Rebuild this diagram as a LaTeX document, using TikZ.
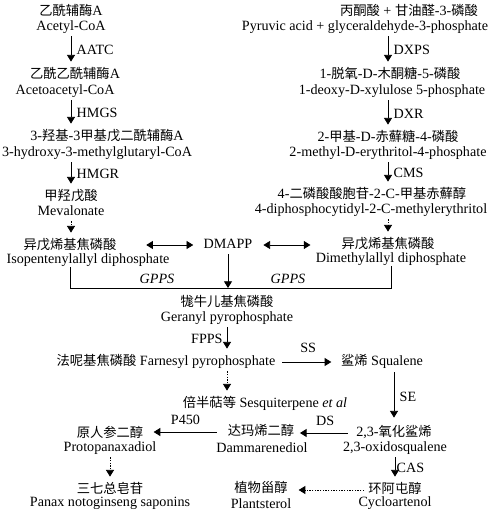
\documentclass[tikz,border=0pt]{standalone}
\usepackage{fontspec}
\setmainfont{Liberation Serif}
\newfontfamily\cjk[Scale=0.94]{Noto Sans CJK SC}
\newcommand{\zh}[1]{{\cjk #1}}
\usetikzlibrary{arrows.meta}

\begin{document}
\begin{tikzpicture}[x=0.75pt,y=-0.75pt,line width=0.6pt,
	>={Triangle[length=5pt,width=6pt]},
	every node/.style={inner sep=0pt,text height=8pt,text depth=2.5pt,font=\fontsize{10.6}{12}\selectfont},
	arr/.style={->,shorten <=1.5pt,shorten >=4.5pt},
	dot/.style={arr,dash pattern=on 1pt off 1pt},
	dbl/.style={<->}]
	\useasboundingbox (0,0) rectangle (490,516);

	% MVA pathway
	\node (acc) at (71,12)	{\zh{乙酰辅酶}A};
	\node (ace) at (71,27)	{Acetyl-CoA};
	\node (aac) at (75,75)	{\zh{乙酰乙酰辅酶}A};
	\node (aae) at (65,91)	{Acetoacetyl-CoA};
	\node (hmc) at (107,137)	{3-\zh{羟基}-3\zh{甲基戊二酰辅酶}A};
	\node (hme) at (97,153)	{3-hydroxy-3-methylglutaryl-CoA};
	\node (mvc) at (71,197)	{\zh{甲羟戊酸}};
	\node (mve) at (71,212)	{Mevalonate};
	\node (ipc) at (70,246)	{\zh{异戊烯基焦磷酸}};
	\node (ipe) at (88,260)	{Isopentenylallyl diphosphate};
	\node (dmapp) at (228,245)	{DMAPP};

	% MEP pathway
	\node (pyc) at (409,12)	{\zh{丙酮酸} + \zh{甘油醛}-3-\zh{磷酸}};
	\node (pye) at (365,27)	{Pyruvic acid + glyceraldehyde-3-phosphate};
	\node (dxc) at (390,75)	{1-\zh{脱氧}-D-\zh{木酮糖}-5-\zh{磷酸}};
	\node (dxe) at (392,91)	{1-deoxy-D-xylulose 5-phosphate};
	\node (mec) at (388,138)	{2-\zh{甲基}-D-\zh{赤蘚糖}-4-\zh{磷酸}};
	\node (mee) at (388,153)	{2-methyl-D-erythritol-4-phosphate};
	\node (cdc) at (372,195)	{4-\zh{二磷酸酸胞苷}-2-C-\zh{甲基赤蘚醇}};
	\node (cde) at (371,210)	{4-diphosphocytidyl-2-C-methylerythritol};
	\node (dmc) at (388,245)	{\zh{异戊烯基焦磷酸}};
	\node (dme) at (391,259)	{Dimethylallyl diphosphate};

	% downstream
	\node (gpc) at (227,303)	{\zh{牻牛儿基焦磷酸}};
	\node (gpe) at (227,318)	{Geranyl pyrophosphate};
	\node (fpp) at (166,362)	{\zh{法呢基焦磷酸} Farnesyl pyrophosphate};
	\node (sq) at (382,362)	{\zh{鲨烯} Squalene};
	\node (sesq) at (265,404)	{\zh{倍半萜等} Sesquiterpene \textit{et al}};
	\node (oxc) at (394,433)	{2,3-\zh{氧化鲨烯}};
	\node (oxe) at (395,448)	{2,3-oxidosqualene};
	\node (ddc) at (261,432)	{\zh{达玛烯二醇}};
	\node (dde) at (262,449)	{Dammarenediol};
	\node (ppc) at (110,434)	{\zh{原人参二醇}};
	\node (ppe) at (110,448)	{Protopanaxadiol};
	\node (cyc) at (395,490)	{\zh{环阿屯醇}};
	\node (cye) at (395,503)	{Cycloartenol};
	\node (psc) at (261,489)	{\zh{植物甾醇}};
	\node (pse) at (261,505)	{Plantsterol};
	\node (pnc) at (110,490)	{\zh{三七总皂苷}};
	\node (pne) at (110,503)	{Panax notoginseng saponins};

	\coordinate (gl) at (0,288);

	\draw[arr] (ace.south) -- node[right=4pt] {AATC} (ace.south |- aac.north);
	\draw[arr] (ace.south |- aae.south) -- node[right=4pt] {HMGS} (ace.south |- hmc.north);
	\draw[arr] (ace.south |- hme.south) -- node[right=4pt] {HMGR} (mvc.north);
	\draw[dot] (mve.south) -- (mve.south |- ipc.north);
	\draw[dbl,shorten <=22pt,shorten >=7.5pt] (ipc.east |- dmapp.west) -- (dmapp.west);
	\draw[dbl,shorten <=8pt,shorten >=23pt] (dmapp.east) -- (dmapp.east -| dmc.west);

	\draw[arr] (dmc |- pye.south) -- node[right=4pt] {DXPS} (dmc |- dxc.north);
	\draw[arr] (dmc |- dxe.south) -- node[right=4pt] {DXR} (dmc |- mec.north);
	\draw[arr] (dmc |- mee.south) -- node[right=4pt] {CMS} (dmc |- cdc.north);
	\draw[dot] (dmc |- cde.south) -- (dmc.north);

	\draw (ipc |- ipe.south) -- (ipc |- gl) -- (dme |- gl) -- (dme.south);
	\draw[->,shorten <=1.5pt] (dmapp.south) -- (dmapp |- gl);
	\node[font=\fontsize{10.6}{12}\itshape] (gpps1) at (157,280) {GPPS};
	\node[font=\fontsize{10.6}{12}\itshape] (gpps2) at (288,280) {GPPS};

	\draw[arr] (gpe.south) -- node[left=3pt] {FPPS} (gpe.south |- fpp.north);
	\draw[->,shorten <=5pt,shorten >=7pt] (fpp.east) -- node[above=4pt] {SS} (sq.west);
	\draw[dot] (gpe.south |- fpp.south) -- (gpe.south |- sesq.north);
	\draw[->,shorten <=2pt,shorten >=6pt] (oxc |- sq.south) -- node[right=4pt] {SE} (oxc.north);
	\draw[->,shorten <=6pt,shorten >=4pt] (oxc.west) -- node[above=3pt] {DS} (oxc.west -| ddc.east);
	\draw[->,shorten <=8pt,shorten >=7.5pt] (ddc.west) -- node[above=3pt] {P450} (ddc.west -| ppc.east);
	\draw[arr] (oxe.south) -- node[right=1pt] {CAS} (oxe.south |- cyc.north);
	\draw[dot] (ppe.south) -- (ppe.south |- pnc.north);
	\draw[->,dash pattern=on 1pt off 1pt,shorten <=3pt,shorten >=8pt] (cyc.west) -- (cyc.west -| psc.east);
\end{tikzpicture}
\end{document}
